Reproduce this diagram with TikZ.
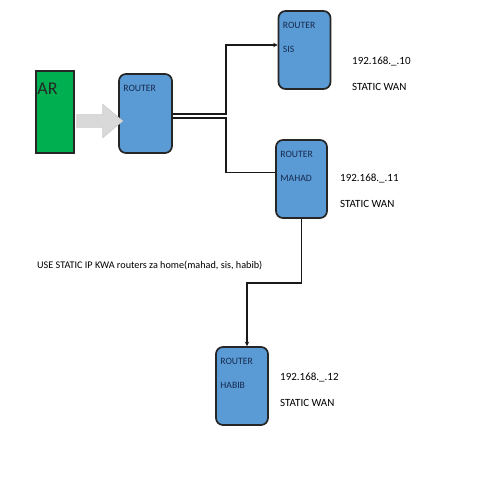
\documentclass[tikz,border=0pt]{standalone}
\usepackage{fontspec}
\setmainfont{Carlito}
\usetikzlibrary{positioning,calc}
\usetikzlibrary{arrows.meta}
\usetikzlibrary{shapes.arrows}
\definecolor{routerblue}{RGB}{91,155,213}
\definecolor{routertext}{RGB}{22,42,78}
\definecolor{argreen}{RGB}{0,176,80}
\definecolor{flowgray}{RGB}{217,217,217}
\tikzset{
        boxnode/.style={inner sep=0pt, line width=1.7pt, draw=black!85},
        % Router boxes
        node_router/.style={boxnode, rectangle, rounded corners=7pt, fill=routerblue, minimum width=52pt, minimum height=78pt},
        % Source box
        node_source/.style={boxnode, rectangle, fill=argreen, minimum width=38pt, minimum height=82pt},
        % Text inside the boxes
        router_text/.style={anchor=north west, inner sep=0pt, xshift=5pt, yshift=-12pt, align=left, text=routertext, font=\fontsize{9.7}{24}\selectfont},
        % Address labels
        node_ip/.style={anchor=north west, inner sep=0pt, align=left, font=\fontsize{11}{26}\selectfont},
        % Links
        link/.style={line width=1.5pt, draw=black!90},
        link_arrow/.style={link, -{Stealth[length=4.5pt,width=4.5pt]}}
}
\begin{document}
\begin{tikzpicture}[x=1pt, y=-1pt]
            \useasboundingbox (0,0) rectangle (495,495);
            \node[node_source, label={[anchor=north west, inner sep=0pt, xshift=2pt, yshift=-13pt, font=\fontsize{18}{18}\selectfont, text=black!85]north west:AR}] (ar) at (55,112) {};
            \node[node_router, minimum width=53pt, minimum height=79pt, label={[router_text]north west:ROUTER}] (router) at (145.5,113.5) {};
            \node[node_router, label={[router_text]north west:ROUTER\\SIS}] (sis) at (304.5,50) {};
            \node[node_router, minimum width=51pt, label={[router_text]north west:ROUTER\\MAHAD}] (mahad) at (301.5,179) {};
            \node[node_router, label={[router_text]north west:ROUTER\\HABIB}] (habib) at (242,386) {};
            % Flow into the main router
            \node[single arrow, fill=flowgray, draw=black!20, line width=0.6pt, inner sep=6pt, single arrow head extend=10.5pt, single arrow tip angle=80, minimum height=46pt] (flow) at (96,121) {};
            % Address labels
            \node[node_ip] (sis_ip) at (352,56.5) {192.168.\_.10\\STATIC WAN};
            \node[node_ip] (mahad_ip) at (340,173.5) {192.168.\_.11\\STATIC WAN};
            \node[node_ip] (habib_ip) at (280,372.5) {192.168.\_.12\\STATIC WAN};
            \node[anchor=west, inner sep=0pt, font=\fontsize{10.2}{12}\selectfont] (note) at (37,265) {USE STATIC IP KWA routers za home(mahad, sis, habib)};
            % Links
            \draw[link_arrow] ([yshift=-0.5pt]router.east) -- ++(53,0) |- ([yshift=5pt]sis.west);
            \draw[link] ([yshift=-4.5pt]router.east) -- ++(53,0) |- ([yshift=6.5pt]mahad.west);
            \draw[link_arrow] (mahad.south) -- ++(0,64) -| ([xshift=5pt]habib.north);
        \end{tikzpicture}
\end{document}
